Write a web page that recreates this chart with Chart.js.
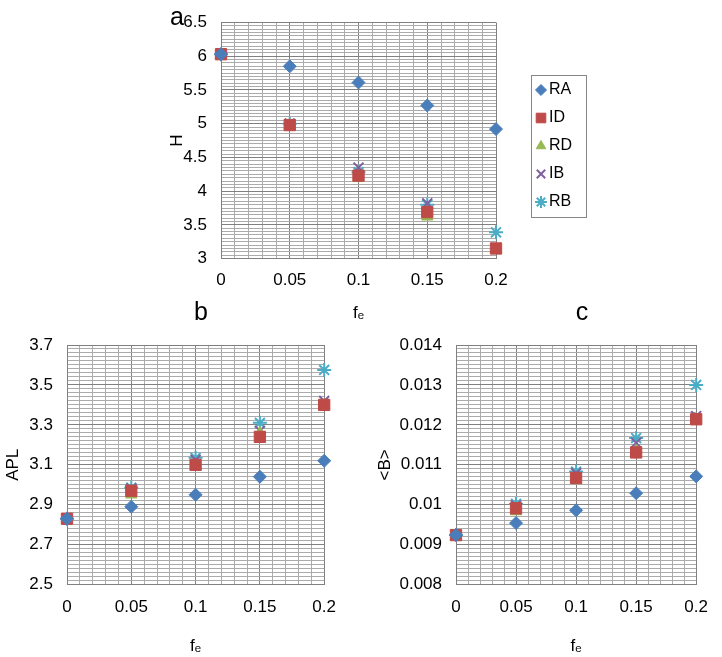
<!DOCTYPE html>
<html>
<head>
<meta charset="utf-8">
<script src="https://cdn.jsdelivr.net/npm/chart.js@4.4.1/dist/chart.umd.min.js"></script>
<style>
  body { margin: 0; background: #fff; }
  canvas { position: absolute; }
</style>
</head>
<body>
<canvas id="chartA" width="450" height="330" style="left:150px;top:0px"></canvas>
<canvas id="chartB" width="350" height="357" style="left:0px;top:300px"></canvas>
<canvas id="chartC" width="362" height="357" style="left:360px;top:300px"></canvas>
<script>
// x values and series names
var fe = [0, 0.05, 0.1, 0.15, 0.2];
var seriesNames = ['RA', 'ID', 'RD', 'IB', 'RB'];

// panel a : H
var hRA = [6.03, 5.85, 5.61, 5.27, 4.92];
var hID = [6.03, 4.98, 4.23, 3.69, 3.15];
var hRD = [6.02, 4.96, 4.19, 3.62, 3.14];
var hIB = [6.03, 5.00, 4.35, 3.82, 3.16];
var hRB = [6.03, 5.00, 4.28, 3.80, 3.39];

// panel b : APL
var aplRA = [2.83, 2.89, 2.95, 3.04, 3.12];
var aplID = [2.83, 2.97, 3.10, 3.24, 3.40];
var aplRD = [2.82, 2.95, 3.09, 3.26, 3.40];
var aplIB = [2.83, 2.98, 3.125, 3.27, 3.42];
var aplRB = [2.83, 2.985, 3.135, 3.31, 3.575];

// panel c : <B>
var bRA = [0.00924, 0.00954, 0.00986, 0.01029, 0.01071];
var bID = [0.00924, 0.00991, 0.01067, 0.01131, 0.01214];
var bRD = [0.00922, 0.00983, 0.01061, 0.01135, 0.01214];
var bIB = [0.00924, 0.00998, 0.01079, 0.01155, 0.01222];
var bRB = [0.00924, 0.01002, 0.01083, 0.01167, 0.01300];

// labelled ticks
var feTicks = [0, 0.05, 0.1, 0.15, 0.2];
var hTicks = [3, 3.5, 4, 4.5, 5, 5.5, 6, 6.5];
var aplTicks = [2.5, 2.7, 2.9, 3.1, 3.3, 3.5, 3.7];
var bTicks = [0.008, 0.009, 0.01, 0.011, 0.012, 0.013, 0.014];

var colors = ['#4a7ebb', '#be4b48', '#98b954', '#7d60a0', '#4bacc6'];
var shapes = ['rectRot', 'rect', 'triangle', 'crossRot', 'star'];
var radii = [6.5, 8, 6.5, 7, 7];
var lineW = [1, 1, 1, 2, 2];

var font = "'Liberation Sans', Arial, 'DejaVu Sans', sans-serif";

function makeSets(values) {
  return seriesNames.map(function(name, i) {
    return {
      label: name,
      data: fe.map(function(x, j) { return {x: x, y: values[i][j]}; }),
      pointStyle: shapes[i],
      pointRadius: radii[i],
      pointHoverRadius: radii[i],
      backgroundColor: colors[i],
      borderColor: colors[i],
      borderWidth: lineW[i],
      clip: false
    };
  });
}

function findMajor(v, list, minor) {
  for (var i = 0; i < list.length; i++) {
    if (Math.abs(list[i] - v) < minor / 100) return list[i];
  }
  return null;
}

function axis(list, minor, title, opts) {
  return {
    type: 'linear',
    position: opts.position,
    min: list[0],
    max: list[list.length - 1],
    afterFit: opts.width ? function(s) { s.width = opts.width; } : undefined,
    border: { color: '#808080' },
    grid: {
      drawTicks: false,
      color: function(c) {
        return findMajor(c.tick.value, list, minor) !== null ? '#808080' : '#ababab';
      }
    },
    ticks: {
      stepSize: minor,
      autoSkip: false,
      maxRotation: 0,
      padding: opts.tickPad,
      color: '#000',
      font: { family: font, size: 17, lineHeight: 1 },
      callback: function(v) {
        var m = findMajor(v, list, minor);
        return m === null ? '' : String(m);
      }
    },
    title: {
      display: true,
      text: title,
      color: '#000',
      font: { family: font, size: opts.titleSize, lineHeight: 1.2 },
      padding: opts.titlePad
    }
  };
}

var panelLetter = {
  id: 'panelLetter',
  afterDraw: function(chart) {
    var o = chart.options.plugins.panelLetter;
    var ctx = chart.ctx;
    ctx.save();
    ctx.fillStyle = '#000';
    ctx.font = '25px ' + font;
    ctx.textAlign = 'center';
    ctx.textBaseline = 'middle';
    ctx.fillText(o.text, o.x, o.y);
    ctx.restore();
  }
};

var legendBox = {
  id: 'legendBox',
  afterDraw: function(chart) {
    var o = chart.options.plugins.legendBox;
    if (!o || !o.show) return;
    var ctx = chart.ctx;
    ctx.save();
    ctx.strokeStyle = '#868686';
    ctx.lineWidth = 1;
    ctx.strokeRect(o.x + 0.5, o.y + 0.5, o.w, o.h);
    chart.data.datasets.forEach(function(ds, i) {
      var cy = o.y + o.first + i * o.gap;
      ctx.fillStyle = ds.backgroundColor;
      ctx.strokeStyle = ds.borderColor;
      ctx.lineWidth = ds.borderWidth;
      Chart.helpers.drawPoint(ctx, {
        pointStyle: ds.pointStyle, radius: ds.pointRadius * 0.85,
        rotation: 0, borderWidth: ds.borderWidth
      }, o.x + 10, cy);
      ctx.fillStyle = '#000';
      ctx.font = '16px ' + font;
      ctx.textAlign = 'left';
      ctx.textBaseline = 'middle';
      ctx.fillText(ds.label, o.x + 18, cy);
    });
    ctx.restore();
  }
};

function makeChart(id, values, yList, yMinor, yTitle, lay) {
  return new Chart(document.getElementById(id), {
    type: 'scatter',
    data: { datasets: makeSets(values) },
    plugins: [panelLetter, legendBox],
    options: {
      responsive: false,
      animation: false,
      devicePixelRatio: 1,
      layout: { padding: lay.padding },
      scales: {
        x: axis(feTicks, 0.01, 'f\u2091', {
          position: 'bottom', tickPad: lay.xTickPad, titleSize: 17,
          titlePad: { top: lay.xTitlePad, bottom: 0 }
        }),
        y: axis(yList, yMinor, yTitle, {
          position: 'left', width: lay.yWidth, tickPad: 14, titleSize: 17,
          titlePad: { top: lay.yTitlePad, bottom: 0 }
        })
      },
      plugins: {
        legend: { display: false },
        tooltip: { enabled: false },
        panelLetter: lay.letter,
        legendBox: lay.legend
      }
    }
  });
}

makeChart('chartA', [hRA, hID, hRD, hIB, hRB], hTicks, 0.05, 'H', {
  padding: { left: 0, top: 8, right: 104, bottom: 6 },
  xTickPad: 13, xTitlePad: 2, yWidth: 71, yTitlePad: 17,
  letter: { text: 'a', x: 27, y: 18 },
  legend: { show: true, x: 381, y: 75, w: 55, h: 142, first: 15, gap: 28 }
});

makeChart('chartB', [aplRA, aplID, aplRD, aplIB, aplRB], aplTicks, 0.02, 'APL', {
  padding: { left: 0, top: 45, right: 16, bottom: 0 },
  xTickPad: 14, xTitlePad: 7, yWidth: 67, yTitlePad: 3,
  letter: { text: 'b', x: 201, y: 13 },
  legend: { show: false }
});

makeChart('chartC', [bRA, bID, bRD, bIB, bRB], bTicks, 0.0001, '<B>', {
  padding: { left: 0, top: 45, right: 13, bottom: 0 },
  xTickPad: 14, xTitlePad: 7, yWidth: 96, yTitlePad: 15,
  letter: { text: 'c', x: 222, y: 13 },
  legend: { show: false }
});
</script>
</body>
</html>
